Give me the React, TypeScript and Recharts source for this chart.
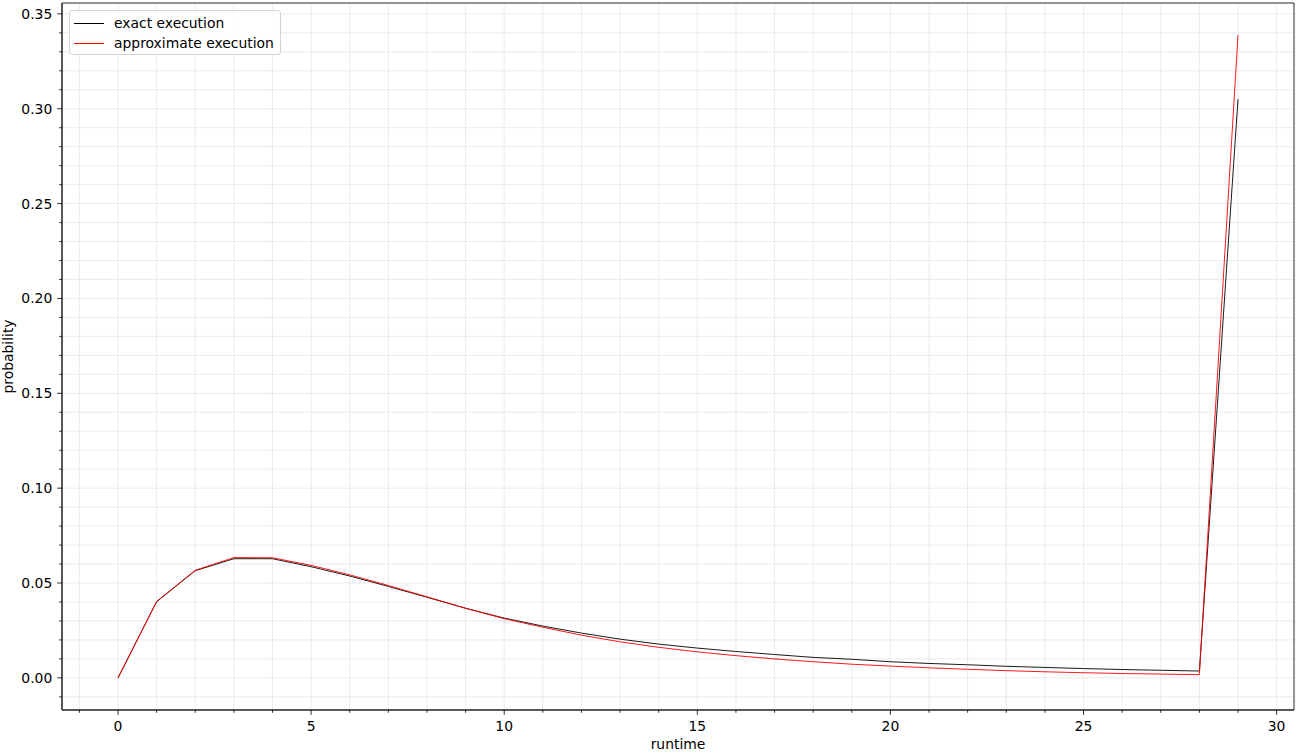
import { LineChart, Line, XAxis, YAxis, CartesianGrid, ReferenceArea } from "recharts"

const runtime = [0, 1, 2, 3, 4, 5, 6, 7, 8, 9, 10, 11, 12, 13, 14, 15, 16, 17, 18, 19, 20, 21, 22, 23, 24, 25, 26, 27, 28, 29]
const exactProb = [
  0, 0.0401, 0.0565, 0.0628, 0.0628, 0.0586, 0.0537, 0.0482, 0.0425, 0.0367,
  0.0315, 0.0273, 0.0236, 0.0204, 0.0178, 0.0157, 0.0139, 0.0123, 0.0108, 0.0098,
  0.0085, 0.0076, 0.0069, 0.0061, 0.0055, 0.0049, 0.0044, 0.004, 0.0036, 0.305,
]
const approxProb = [
  0, 0.0403, 0.0567, 0.0634, 0.0633, 0.0593, 0.0543, 0.0487, 0.0427, 0.0367,
  0.0312, 0.0267, 0.0225, 0.019, 0.0161, 0.0137, 0.0117, 0.01, 0.0085, 0.0072,
  0.0062, 0.0053, 0.0045, 0.0038, 0.0032, 0.0027, 0.0023, 0.002, 0.0017, 0.3388,
]

// every integer gets a grid line / minor tick, labels on multiples of 5
const xTicks = [-1, 0, 1, 2, 3, 4, 5, 6, 7, 8, 9, 10, 11, 12, 13, 14, 15, 16, 17, 18, 19, 20, 21, 22, 23, 24, 25, 26, 27, 28, 29, 30]
const yTicks = [
  -0.01, 0, 0.01, 0.02, 0.03, 0.04, 0.05, 0.06, 0.07, 0.08, 0.09, 0.1, 0.11, 0.12,
  0.13, 0.14, 0.15, 0.16, 0.17, 0.18, 0.19, 0.2, 0.21, 0.22, 0.23, 0.24, 0.25, 0.26,
  0.27, 0.28, 0.29, 0.3, 0.31, 0.32, 0.33, 0.34, 0.35,
]
const xDomain = [-1.45, 30.45]
const yDomain = [-0.01694, 0.35574]

const data = runtime.map((t, i) => ({ runtime: t, exact: exactProb[i], approx: approxProb[i] }))

const font = "'DejaVu Sans', sans-serif"
const fontSize = 13.9

function XTick(props: any) {
  const { x, y, payload } = props
  const major = payload.value % 5 === 0
  return (
    <g>
      <line x1={x} x2={x} y1={y} y2={y + (major ? 4.9 : 2.8)} stroke="#000" strokeWidth={0.8} />
      {major && (
        <text x={x} y={y + 21} textAnchor="middle" fontFamily={font} fontSize={fontSize} fill="#000">
          {payload.value}
        </text>
      )}
    </g>
  )
}

function YTick(props: any) {
  const { x, y, payload } = props
  const major = Math.round(payload.value * 100) % 5 === 0
  return (
    <g>
      <line x1={x} x2={x - (major ? 4.9 : 2.8)} y1={y} y2={y} stroke="#000" strokeWidth={0.8} />
      {major && (
        <text x={x - 9.7} y={y + 5} textAnchor="end" fontFamily={font} fontSize={fontSize} fill="#000">
          {payload.value.toFixed(2)}
        </text>
      )}
    </g>
  )
}

function ChartLegend() {
  const rows = [
    { label: "exact execution", color: "#000000" },
    { label: "approximate execution", color: "#ff0000" },
  ]
  return (
    <div
      style={{
        position: "absolute",
        left: 69,
        top: 10,
        width: 212,
        height: 45,
        boxSizing: "border-box",
        border: "1px solid #d4d4d4",
        borderRadius: 3,
        background: "rgba(255,255,255,0.8)",
        fontFamily: font,
        fontSize: fontSize,
      }}
    >
      {rows.map((r, i) => (
        <div key={r.label} style={{ position: "absolute", left: 4, top: 2 + i * 20, height: 20, display: "flex", alignItems: "center" }}>
          <div style={{ width: 30, height: 0, borderTop: `0.8px solid ${r.color}`, marginRight: 10 }} />
          <span style={{ whiteSpace: "nowrap" }}>{r.label}</span>
        </div>
      ))}
    </div>
  )
}

export default function App() {
  return (
    <div style={{ position: "absolute", left: 0, top: 0, width: 1299, height: 753, background: "#fff" }}>
      <LineChart width={1299} height={753} data={data} margin={{ top: 3, right: 5, left: 0, bottom: 0 }}>
        <CartesianGrid stroke="#e6e6e6" strokeWidth={0.8} />
        <XAxis
          dataKey="runtime"
          type="number"
          domain={xDomain}
          ticks={xTicks}
          allowDataOverflow
          height={43}
          tickSize={0}
          tickMargin={0}
          tickLine={false}
          axisLine={{ stroke: "#000", strokeWidth: 0.8 }}
          tick={<XTick />}
          interval={0}
          label={(p: any) => {
            const vb = p.viewBox
            return (
              <text x={vb.x + vb.width / 2} y={vb.y + 39} textAnchor="middle" fontFamily={font} fontSize={fontSize} fill="#000">
                runtime
              </text>
            )
          }}
        />
        <YAxis
          type="number"
          domain={yDomain}
          ticks={yTicks}
          allowDataOverflow
          width={62}
          tickSize={0}
          tickMargin={0}
          tickLine={false}
          axisLine={{ stroke: "#000", strokeWidth: 0.8 }}
          tick={<YTick />}
          interval={0}
          label={(p: any) => {
            const vb = p.viewBox
            const cx = 13
            const cy = vb.y + vb.height / 2
            return (
              <text x={cx} y={cy} transform={`rotate(-90 ${cx} ${cy})`} textAnchor="middle" fontFamily={font} fontSize={fontSize} fill="#000">
                probability
              </text>
            )
          }}
        />
        <ReferenceArea
          x1={xDomain[0]}
          x2={xDomain[1]}
          y1={yDomain[0]}
          y2={yDomain[1]}
          fill="none"
          stroke="#000"
          strokeWidth={0.8}
          ifOverflow="visible"
        />
        <Line dataKey="exact" stroke="#000000" strokeWidth={0.9} dot={false} isAnimationActive={false} />
        <Line dataKey="approx" stroke="#ff0000" strokeWidth={0.9} dot={false} isAnimationActive={false} />
      </LineChart>
      <ChartLegend />
    </div>
  )
}
